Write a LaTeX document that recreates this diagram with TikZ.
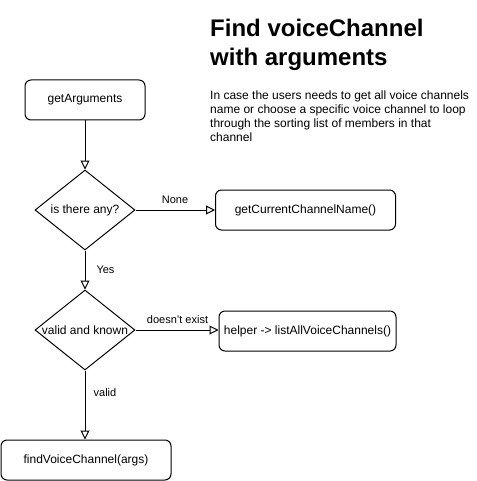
\documentclass[tikz,border=0pt]{standalone}
\usepackage{fontspec}
\setmainfont{Liberation Sans}
\usetikzlibrary{arrows.meta,shapes.geometric}
\tikzset{
  procbox/.style={draw, line width=1pt, rounded corners=6pt, inner sep=0pt,
    minimum height=40pt, font=\fontsize{12}{14}\selectfont},
  decision/.style={draw, line width=1pt, shape=diamond, inner sep=0pt,
    minimum width=100pt, minimum height=80pt},
  dtext/.style={font=\fontsize{12}{14}\selectfont, inner sep=0pt},
  flow/.style={draw, line width=1pt, -{Triangle[open, length=9pt, width=9pt]}},
  elabel/.style={font=\fontsize{11}{13}\selectfont, inner sep=0pt}
}
\begin{document}
\begin{tikzpicture}[x=1pt,y=-1pt]
\useasboundingbox (0,0) rectangle (476,481);
\node[anchor=north west, inner sep=0pt, align=left, font=\fontsize{24}{28.5}\bfseries\selectfont] (title) at (210,19.2) {Find voiceChannel\\with arguments};
\node[anchor=north west, inner sep=0pt, align=left, font=\fontsize{12}{14}\selectfont] (desc) at (210,90.3) {In case the users needs to get all voice channels\\name or choose a specific voice channel to loop\\through the sorting list of members in that\\channel};

\node[procbox, minimum width=120pt] (ga) at (85,100) {getArguments};
\node[decision] (d1) at (85,210) {};
\node[dtext] (d1t) at (d1.center) {is there any?};
\node[procbox, minimum width=180pt] (gc) at (305.5,210) {getCurrentChannelName()};
\node[decision] (d2) at (85,330) {};
\node[dtext] (d2t) at (d2.center) {valid and known};
\node[procbox, minimum width=177pt] (hl) at (307.5,331) {helper -> listAllVoiceChannels()};
\node[procbox, minimum width=170pt] (fv) at (86,460) {findVoiceChannel(args)};

\draw[flow] (ga.south) -- (d1.north);
\draw[flow] (d1.east) -- (d1.east -| gc.west);
\draw[flow] (d1.south) -- (d2.north);
\draw[flow] (d2.east) -- (d2.east -| hl.west);
\draw[flow] (d2.south) -- (d2.south |- fv.north);

\node[elabel] (l1) at (175,200) {None};
\node[elabel] (l2) at (105.5,270) {Yes};
\node[elabel] (l3) at (177.5,319.5) {doesn't exist};
\node[elabel] (l4) at (105,393) {valid};
\end{tikzpicture}
\end{document}
